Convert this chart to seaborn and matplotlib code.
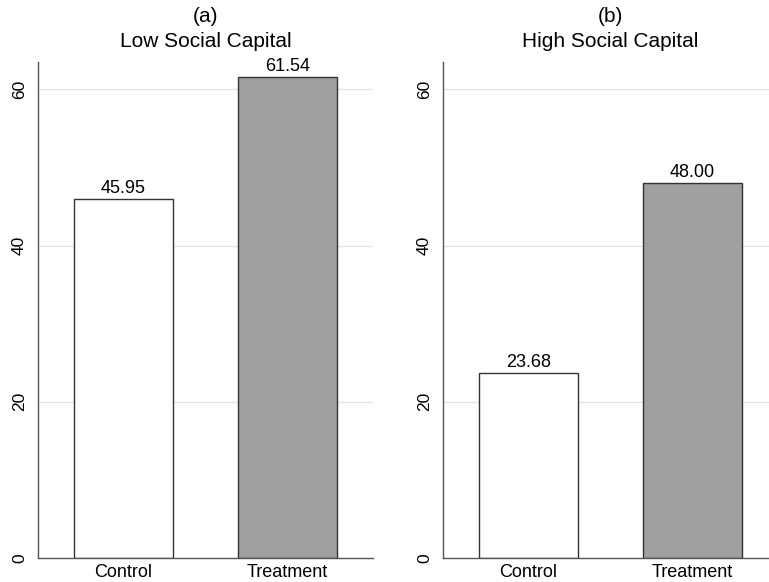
import pandas as pd
import numpy as np
import matplotlib.pyplot as plt
import seaborn as sns

# data
groups = ["Control", "Treatment"]
low_vals = [45.95, 61.54]
high_vals = [23.68, 48.00]
panel_titles = ["(a)\nLow Social Capital", "(b)\nHigh Social Capital"]
yticks = [0, 20, 40, 60]

sns.set_style("white")
plt.rcParams['font.family'] = ['Liberation Sans', 'DejaVu Sans']
plt.rcParams['text.color'] = 'black'
plt.rcParams['xtick.color'] = 'black'
plt.rcParams['ytick.color'] = 'black'

fig = plt.figure(figsize=(7.69, 5.82), dpi=100)
ax1 = fig.add_axes([38/769, 1 - 558/582, 335/769, 496/582])
ax2 = fig.add_axes([443/769, 1 - 558/582, 335/769, 496/582])

bar_colors = ["#ffffff", "#a0a0a0"]

for ax, vals, title in zip([ax1, ax2], [low_vals, high_vals], panel_titles):
    df = pd.DataFrame({"group": groups, "value": vals})
    sns.barplot(data=df, x="group", y="value", hue="group", palette=bar_colors,
                width=0.6, edgecolor="#333333", linewidth=1.0, legend=False, ax=ax)
    # value labels above bars
    for p, v in zip(ax.patches, vals):
        ax.text(p.get_x() + p.get_width() / 2, v + 0.3, f"{v:.2f}",
                ha="center", va="bottom", fontsize=13)
    ax.set_xlim(-0.52, 1.52)
    ax.set_ylim(0, 63.5)
    ax.set_yticks(yticks)
    ax.set_yticklabels([str(t) for t in yticks], rotation=90, va="center", fontsize=12.5)
    ax.tick_params(axis="y", length=5, width=1, color="#555555", pad=3)
    ax.tick_params(axis="x", length=0, labelsize=13, pad=4)
    for t in yticks[1:]:
        ax.axhline(t, color="#e3e3e3", lw=0.9, zorder=0)
    ax.set_axisbelow(True)
    ax.set_xlabel("")
    ax.set_ylabel("")
    ax.set_title(title, fontsize=15, linespacing=1.35, pad=11)
    sns.despine(ax=ax, top=True, right=True)
    ax.spines["left"].set_color("#555555")
    ax.spines["bottom"].set_color("#555555")
    ax.spines["left"].set_linewidth(1.0)
    ax.spines["bottom"].set_linewidth(1.0)

fig.savefig("out.png", dpi=100)
